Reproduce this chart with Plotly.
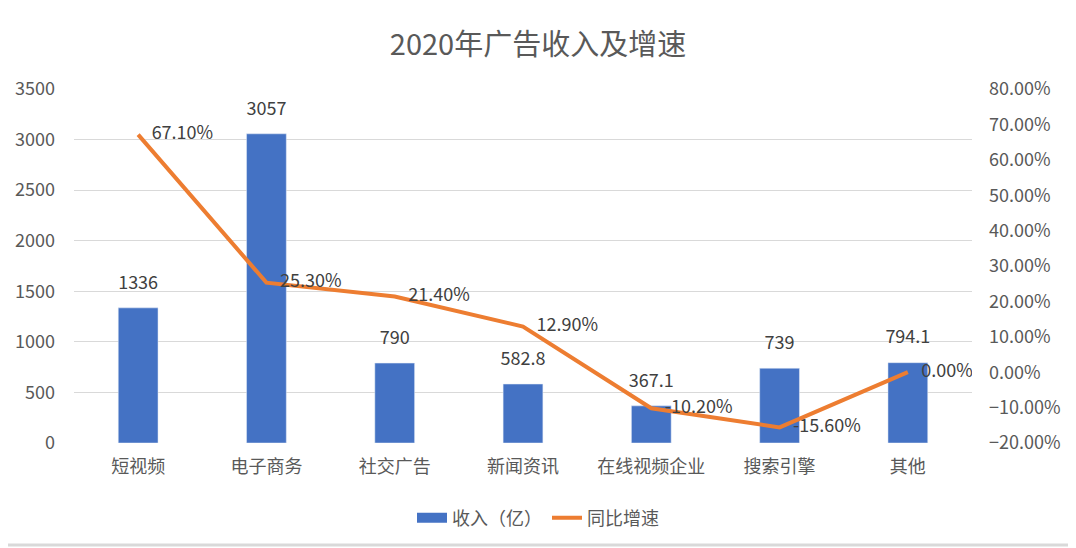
import plotly.graph_objects as go

categories = ["短视频", "电子商务", "社交广告", "新闻资讯", "在线视频企业", "搜索引擎", "其他"]
revenue = [1336, 3057, 790, 582.8, 367.1, 739, 794.1]
revenue_labels = ["1336", "3057", "790", "582.8", "367.1", "739", "794.1"]
growth = [0.671, 0.253, 0.214, 0.129, -0.102, -0.156, 0.0]
growth_labels = ["67.10%", "25.30%", "21.40%", "12.90%", "-10.20%", "-15.60%", "0.00%"]

FONT = "Noto Sans CJK SC"
GREY = "#595959"
FS = 18

# the page body has an 8px margin, so the figure is sized to end at the window edge
W, H = 1068, 540
L, R, T, B = 66, 104, 81, 105
PW, PH = W - L - R, H - T - B

fig = go.Figure()
fig.add_trace(go.Bar(
    x=categories, y=revenue, name="收入（亿）", marker_color="#4472C4",
    width=0.31, yaxis="y", showlegend=False,
))
fig.add_trace(go.Scatter(
    x=categories, y=revenue, mode="markers+text", text=revenue_labels,
    textposition="top center", marker=dict(size=22, opacity=0),
    textfont=dict(family=FONT, size=FS, color="#404040"),
    showlegend=False, hoverinfo="skip", yaxis="y",
))
# legend entry for the bars (wide rectangle symbol like the reference)
fig.add_trace(go.Scatter(
    x=[None], y=[None], mode="lines", name="收入（亿）",
    line=dict(color="#4472C4", width=10), yaxis="y",
))
fig.add_trace(go.Scatter(
    x=categories, y=growth, name="同比增速", mode="lines",
    line=dict(color="#ED7D31", width=4), yaxis="y2",
))
fig.add_trace(go.Scatter(
    x=categories, y=growth, mode="markers+text", text=growth_labels,
    textposition="middle right", marker=dict(size=20, opacity=0),
    textfont=dict(family=FONT, size=FS, color="#404040"),
    showlegend=False, hoverinfo="skip", yaxis="y2",
))

fig.update_layout(
    width=W, height=H,
    margin=dict(l=L, r=R, t=T, b=B, autoexpand=False),
    paper_bgcolor="white", plot_bgcolor="white",
    font=dict(family=FONT, size=FS, color=GREY),
    title=dict(text="2020年广告收入及增速", x=(538 - 8 - L) / PW, xref="paper", xanchor="center",
               y=1 - (45 - 8) / H, yanchor="middle",
               font=dict(family=FONT, size=29, color=GREY)),
    xaxis=dict(type="category", showgrid=False, showline=False, ticks="",
               tickfont=dict(size=FS, color=GREY), ticklabelstandoff=11),
    yaxis=dict(range=[0, 3500], dtick=500, showgrid=True, gridcolor="#d9d9d9", gridwidth=1,
               zeroline=False, showline=False, ticks="", ticklabelstandoff=18,
               tickfont=dict(size=FS, color=GREY)),
    yaxis2=dict(range=[-0.2, 0.8], dtick=0.1, tickformat=".2%", overlaying="y", side="right",
                showgrid=False, zeroline=False, showline=False, ticks="", ticklabelstandoff=16,
                tickfont=dict(size=FS, color=GREY)),
    legend=dict(orientation="h", x=(538 - 8 - L) / PW, xanchor="center",
                y=-(518 - 8 - T - PH) / PH, yanchor="middle",
                font=dict(size=FS, color=GREY), traceorder="normal"),
    shapes=[
        dict(type="line", xref="paper", yref="paper", x0=-L / PW, x1=1 + (R - 2) / PW,
             y0=-(B - 3) / PH, y1=-(B - 3) / PH, line=dict(color="#d9d9d9", width=3)),
        dict(type="line", xref="paper", yref="paper", x0=1 + (R - 3) / PW, x1=1 + (R - 3) / PW,
             y0=-(B - 3) / PH, y1=1 + T / PH, line=dict(color="#d9d9d9", width=2)),
    ],
)

fig.write_html("out.html")
